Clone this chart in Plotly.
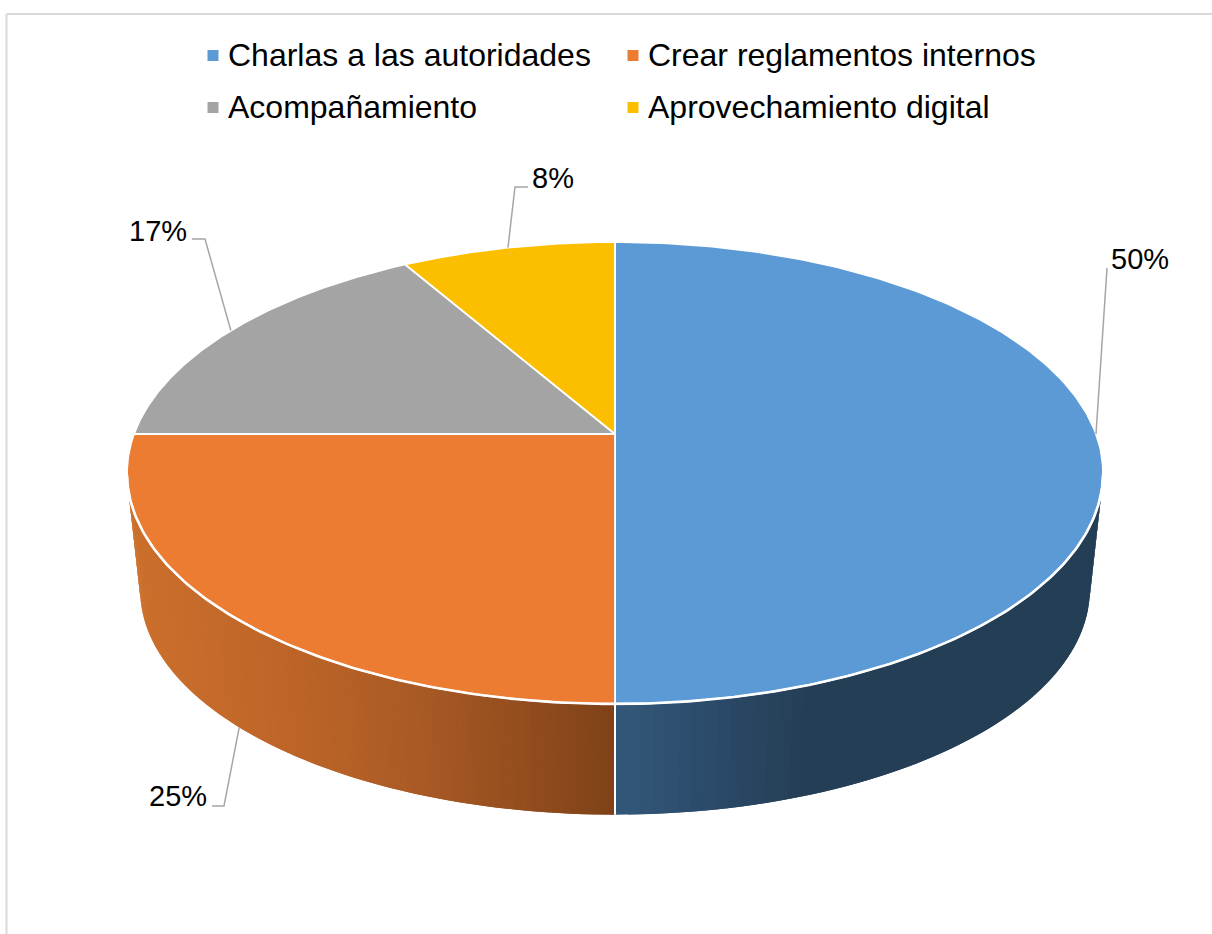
import numpy as np
import plotly.graph_objects as go

categories = ["Charlas a las autoridades", "Crear reglamentos internos", "Acompañamiento", "Aprovechamiento digital"]
values = [6, 3, 2, 1]
pct_labels = ["50%", "25%", "17%", "8%"]

colors = ["#5b9ad5", "#eb7c31", "#a4a4a4", "#fbbf00"]
# wall shading, sampled along x
wall_x = {0: [615, 700, 800, 1103], 1: [127, 300, 420, 615]}
wall_rgb = {
    0: [(52, 88, 122), (44, 76, 106), (37, 63, 87), (35, 62, 85)],
    1: [(204, 112, 45), (188, 100, 40), (168, 90, 37), (127, 65, 24)],
}

CX = 615
K = 0.1688
TOP = dict(cy=434, rx=481, ry=224.4)
BOTTOM = dict(cy=552, rx=468, ry=218.3)


def project(theta, disc):
    # theta in radians, measured clockwise from the back of the disc
    X, Y = np.sin(theta), np.cos(theta)
    w = 1 + K * Y
    return CX + disc["rx"] * X / w, disc["cy"] - disc["ry"] * Y / w


fractions = np.cumsum([0] + values) / sum(values)
angles = 2 * np.pi * fractions

fig = go.Figure()

# side walls first, the top face covers their upper edge
for i in range(len(values)):
    th = np.linspace(angles[i], angles[i + 1], 140)
    th = th[np.cos(th) <= -K]
    if len(th) < 2:
        continue
    for k in range(len(th) - 1):
        # each strip reaches back under the one before it so no seams show
        a, b = th[max(k - 1, 0)], th[k + 1]
        x1, y1 = project(a, TOP)
        x2, y2 = project(b, TOP)
        x3, y3 = project(b, BOTTOM)
        x4, y4 = project(a, BOTTOM)
        xm = (x1 + x2) / 2
        rgb = [np.interp(xm, wall_x[i], [c[j] for c in wall_rgb[i]]) for j in range(3)]
        col = "rgb(%d,%d,%d)" % tuple(rgb)
        fig.add_trace(go.Scatter(x=[x1, x2, x3, x4, x1], y=[y1, y2, y3, y4, y1], mode="lines",
                                 fill="toself", fillcolor=col, line=dict(width=0),
                                 hoverinfo="skip", showlegend=False))

# seam between the two visible walls
x_a, y_a = project(angles[1], TOP)
x_b, y_b = project(angles[1], BOTTOM)
fig.add_trace(go.Scatter(x=[x_a, x_b], y=[y_a, y_b], mode="lines", line=dict(color="white", width=2),
                         hoverinfo="skip", showlegend=False))

# top face
for i in range(len(values)):
    th = np.linspace(angles[i], angles[i + 1], 200)
    xs, ys = project(th, TOP)
    fig.add_trace(go.Scatter(x=[CX, *xs, CX], y=[TOP["cy"], *ys, TOP["cy"]], mode="lines", fill="toself",
                             fillcolor=colors[i], line=dict(color="white", width=1.8),
                             hoverinfo="skip", showlegend=False))

# heavier white rim where the top face meets the walls
th = np.linspace(angles[0], angles[-1], 500)
th = th[np.cos(th) <= -K]
rim_x, rim_y = project(th, TOP)
fig.add_trace(go.Scatter(x=rim_x, y=rim_y, mode="lines", line=dict(color="white", width=2.6),
                         hoverinfo="skip", showlegend=False))

# leader lines: anchor from the slice middle, then elbow and label offsets
elbows = [(1107, 270), (224, 806), (205, 239), (515, 187)]
ends = [(1107, 268), (212, 806), (192, 239), (528, 187)]
label_pos = [(1140, 259), (178, 796), (158, 231), (553, 178)]
discs = [TOP, BOTTOM, TOP, TOP]
for i in range(len(values)):
    ax, ay = project((angles[i] + angles[i + 1]) / 2, discs[i])
    fig.add_trace(go.Scatter(x=[ax, elbows[i][0], ends[i][0]], y=[ay, elbows[i][1], ends[i][1]], mode="lines",
                             line=dict(color="#a6a6a6", width=1.5), hoverinfo="skip", showlegend=False))
    fig.add_annotation(x=label_pos[i][0], y=label_pos[i][1], text=pct_labels[i], showarrow=False,
                       xanchor="center", yanchor="middle", font=dict(size=29, color="black"))

# legend, two columns
legend_x = [213, 633, 213, 633]
legend_y = [55.5, 55.5, 107.5, 107.5]
fig.add_trace(go.Scatter(x=legend_x, y=legend_y, mode="markers",
                         marker=dict(symbol="square", size=11, color=colors, line=dict(width=0)),
                         hoverinfo="skip", showlegend=False))
for i, name in enumerate(categories):
    fig.add_annotation(x=legend_x[i] + 13, y=legend_y[i] - 1, text=name, showarrow=False, xanchor="left",
                       yanchor="middle", font=dict(size=32, color="black"))

# chart frame, cut off by the image on the right and at the bottom
fig.add_shape(type="line", x0=6.5, x1=1212, y0=14, y1=14, line=dict(color="#d9d9d9", width=2))
fig.add_shape(type="line", x0=6.5, x1=6.5, y0=14, y1=934, line=dict(color="#d9d9d9", width=2))

fig.update_xaxes(range=[0, 1212], visible=False)
fig.update_yaxes(range=[934, 0], visible=False)
fig.update_layout(width=1212, height=934, margin=dict(l=0, r=0, t=0, b=0), paper_bgcolor="white",
                  plot_bgcolor="white", font=dict(family="Liberation Sans"), showlegend=False)

fig.write_html("out.html", config=dict(displayModeBar=False),
               post_script="document.body.style.margin='0';document.body.style.overflow='hidden';")
